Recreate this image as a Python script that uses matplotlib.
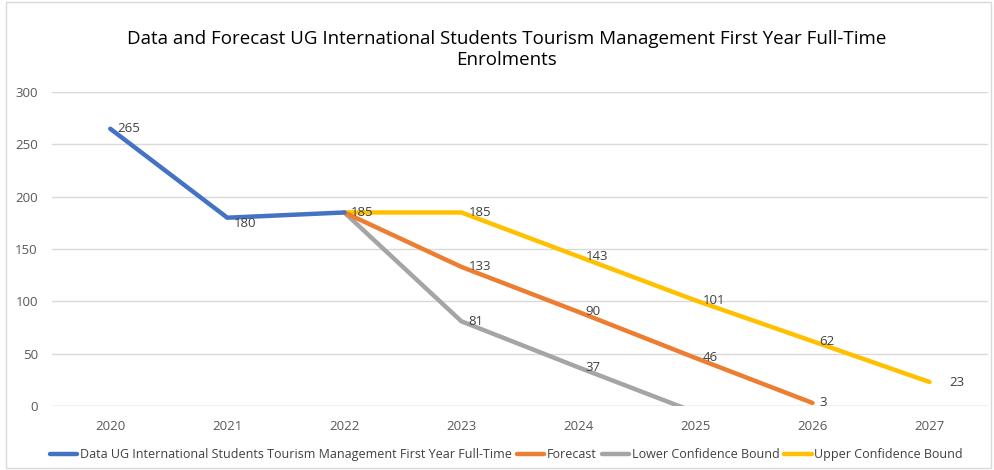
import numpy as np
import matplotlib.pyplot as plt
from matplotlib.patches import Rectangle

plt.rcParams['font.family'] = ['Open Sans', 'DejaVu Sans']

# Dati
years = ['2020', '2021', '2022', '2023', '2024', '2025', '2026', '2027']
actual = [265, 180, 185, np.nan, np.nan, np.nan, np.nan, np.nan]
forecast = [np.nan, np.nan, 185, 133, 90, 46, 3, np.nan]
lower = [np.nan, np.nan, 185, 81, 37, -6, np.nan, np.nan]
upper = [np.nan, np.nan, 185, 185, 143, 101, 62, 23]

labels = ['Data UG International Students Tourism Management First Year Full-Time',
          'Forecast', 'Lower Confidence Bound', 'Upper Confidence Bound']
colors = ['#4472C4', '#ED7D31', '#A5A5A5', '#FFC000']
series = [actual, forecast, lower, upper]

fig = plt.figure(figsize=(9.95, 4.7), dpi=100)
ax = fig.add_axes([0.052, 0.136, 0.941, 0.668])
x = np.arange(len(years))

# disegno: prima le bande, poi forecast e dati
order = [2, 3, 1, 0]
lines = {}
for i in order:
    ln, = ax.plot(x, series[i], color=colors[i], lw=3.2, solid_capstyle='round',
                  solid_joinstyle='round', label=labels[i], zorder=3 + (i == 0))
    lines[i] = ln

# etichette dei valori
for i, s in enumerate(series):
    for xi, v in zip(x, s):
        if np.isnan(v) or v < 0:
            continue
        if i != 0 and xi == 2 and i != 3:
            continue
        if i == 0 and xi == 2:
            continue
        dx = 14 if (i == 3 and xi == 7) else 5
        dy = -4 if (i == 0 and xi == 1) else 0
        ax.annotate(f'{v:.0f}', (xi, v), xytext=(dx, dy), textcoords='offset points',
                    ha='left', va='center', fontsize=9.5, color='#404040', zorder=6)

ax.set_xlim(-0.5, len(years) - 0.5)
ax.set_ylim(0, 300)
ax.set_yticks(np.arange(0, 301, 50))
ax.set_xticks(x)
ax.set_xticklabels(years)
ax.grid(axis='y', color='#D9D9D9', lw=1)
ax.set_axisbelow(True)
for sp in ax.spines.values():
    sp.set_visible(False)
ax.axhline(0, color='#D9D9D9', lw=1, zorder=1)
ax.tick_params(length=0, colors='#595959', labelsize=9.5, pad=10)
ax.tick_params(axis='y', pad=10)

fig.text(0.509, 0.895,
         'Data and Forecast UG International Students Tourism Management First Year Full-Time\nEnrolments',
         ha='center', va='center', fontsize=13.5, color='#000000', linespacing=1.25)

ax.legend([lines[0], lines[1], lines[2], lines[3]], labels, loc='center',
          bbox_to_anchor=(0.509, 0.032), bbox_transform=fig.transFigure, ncol=4,
          frameon=False, fontsize=9, handlelength=2.2, handletextpad=0.2,
          columnspacing=0.4, labelcolor='#404040')

fig.patches.append(Rectangle((0.006, 0.004), 0.99, 0.992, transform=fig.transFigure,
                             fill=False, edgecolor='#D9D9D9', lw=1))

plt.savefig('out.png', dpi=100)
plt.close()
